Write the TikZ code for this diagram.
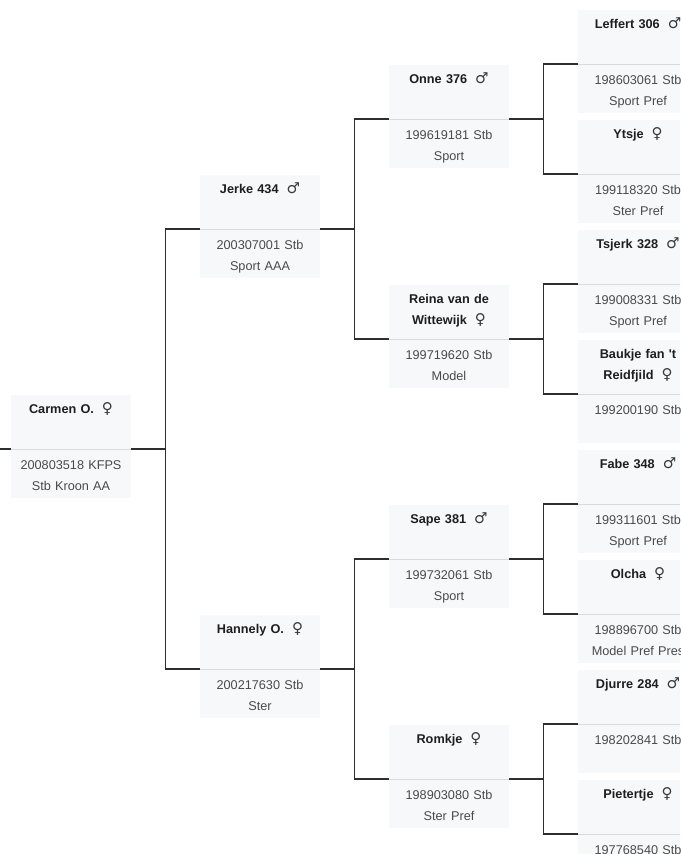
\documentclass[tikz,border=0pt]{standalone}
\usepackage{fontspec}
\setmainfont{Liberation Sans}
\newfontfamily\symfont{DejaVu Sans}
\usetikzlibrary{positioning}

\definecolor{boxfill}{HTML}{F6F8FA}
\definecolor{divline}{HTML}{D6DBE0}
\definecolor{linkcol}{HTML}{2E2E2E}
\definecolor{nametext}{HTML}{1E1E1E}
\definecolor{regtext}{HTML}{4A4A4A}
\definecolor{symcol}{HTML}{3A3A3A}

\newcommand\stallion{\hspace{8pt}{\symfont\fontsize{15}{21}\selectfont\mdseries\color{symcol}\char"2642}}
\newcommand\mare{\hspace{8pt}{\symfont\fontsize{15}{21}\selectfont\mdseries\color{symcol}\char"2640}}

\begin{document}
\begin{tikzpicture}[namebox/.style={fill=boxfill,text width=110pt,align=center,inner xsep=5pt,inner ysep=4pt,outer sep=0pt,text height=14.5pt,text depth=31.5pt,font=\fontsize{12.7}{21}\selectfont\bfseries,text=nametext,anchor=south west},
	regbox/.style={fill=boxfill,text width=110pt,align=center,inner xsep=5pt,inner ysep=4pt,outer sep=0pt,text height=16.5pt,text depth=24.5pt,font=\fontsize{12.7}{21}\selectfont,text=regtext,path picture={\draw[divline,line width=1pt] ([yshift=-0.5pt]path picture bounding box.north west) -- ([yshift=-0.5pt]path picture bounding box.north east);}},
	link/.style={draw=linkcol,line width=1.1pt},
	elbow/.style={to path={-- ++(34.5pt,0) |- (\tikztotarget)}}]

	\useasboundingbox (0,0) rectangle (680pt,-854pt);
	\clip (0,0) rectangle (680pt,-854pt);

	\node[namebox] (carmen) at (11pt,-449pt) {Carmen O.\mare};
	\node[regbox] (carmen-reg) [below=0pt of carmen] {200803518 KFPS\\Stb Kroon AA};
	\coordinate[left=11pt of carmen.south west] (entry);
	\path[link] (entry) edge (carmen.south west);

	\node[namebox] (jerke) [above right=220pt and 69pt of carmen.south east] {Jerke 434\stallion};
	\node[regbox] (jerke-reg) [below=0pt of jerke] {200307001 Stb\\Sport AAA};
	\node[namebox] (hannely) [below right=220pt and 69pt of carmen.south east, anchor=south west] {Hannely O.\mare};
	\node[regbox] (hannely-reg) [below=0pt of hannely] {200217630 Stb\\Ster};
	\path[link] (carmen.south east) edge[elbow] (jerke.south west) edge[elbow] (hannely.south west);

	\node[namebox] (onne) [above right=110pt and 69pt of jerke.south east] {Onne 376\stallion};
	\node[regbox] (onne-reg) [below=0pt of onne] {199619181 Stb\\Sport};
	\node[namebox] (reina) [below right=110pt and 69pt of jerke.south east, anchor=south west] {Reina van de\\Wittewijk\mare};
	\node[regbox] (reina-reg) [below=0pt of reina] {199719620 Stb\\Model};
	\path[link] (jerke.south east) edge[elbow] (onne.south west) edge[elbow] (reina.south west);

	\node[namebox] (sape) [above right=110pt and 69pt of hannely.south east] {Sape 381\stallion};
	\node[regbox] (sape-reg) [below=0pt of sape] {199732061 Stb\\Sport};
	\node[namebox] (romkje) [below right=110pt and 69pt of hannely.south east, anchor=south west] {Romkje\mare};
	\node[regbox] (romkje-reg) [below=0pt of romkje] {198903080 Stb\\Ster Pref};
	\path[link] (hannely.south east) edge[elbow] (sape.south west) edge[elbow] (romkje.south west);

	\node[namebox] (leffert) [above right=55pt and 69pt of onne.south east] {Leffert 306\stallion};
	\node[regbox] (leffert-reg) [below=0pt of leffert] {198603061 Stb\\Sport Pref};
	\node[namebox] (ytsje) [below right=55pt and 69pt of onne.south east, anchor=south west] {Ytsje\mare};
	\node[regbox] (ytsje-reg) [below=0pt of ytsje] {199118320 Stb\\Ster Pref};
	\path[link] (onne.south east) edge[elbow] (leffert.south west) edge[elbow] (ytsje.south west);

	\node[namebox] (tsjerk) [above right=55pt and 69pt of reina.south east] {Tsjerk 328\stallion};
	\node[regbox] (tsjerk-reg) [below=0pt of tsjerk] {199008331 Stb\\Sport Pref};
	\node[namebox] (baukje) [below right=55pt and 69pt of reina.south east, anchor=south west] {Baukje fan \textquotesingle t\\Reidfjild\mare};
	\node[regbox] (baukje-reg) [below=0pt of baukje] {199200190 Stb};
	\path[link] (reina.south east) edge[elbow] (tsjerk.south west) edge[elbow] (baukje.south west);

	\node[namebox] (fabe) [above right=55pt and 69pt of sape.south east] {Fabe 348\stallion};
	\node[regbox] (fabe-reg) [below=0pt of fabe] {199311601 Stb\\Sport Pref};
	\node[namebox] (olcha) [below right=55pt and 69pt of sape.south east, anchor=south west] {Olcha\mare};
	\node[regbox] (olcha-reg) [below=0pt of olcha] {198896700 Stb\\Model Pref Pres};
	\path[link] (sape.south east) edge[elbow] (fabe.south west) edge[elbow] (olcha.south west);

	\node[namebox] (djurre) [above right=55pt and 69pt of romkje.south east] {Djurre 284\stallion};
	\node[regbox] (djurre-reg) [below=0pt of djurre] {198202841 Stb};
	\node[namebox] (pietertje) [below right=55pt and 69pt of romkje.south east, anchor=south west] {Pietertje\mare};
	\node[regbox] (pietertje-reg) [below=0pt of pietertje] {197768540 Stb};
	\path[link] (romkje.south east) edge[elbow] (djurre.south west) edge[elbow] (pietertje.south west);

\end{tikzpicture}
\end{document}
